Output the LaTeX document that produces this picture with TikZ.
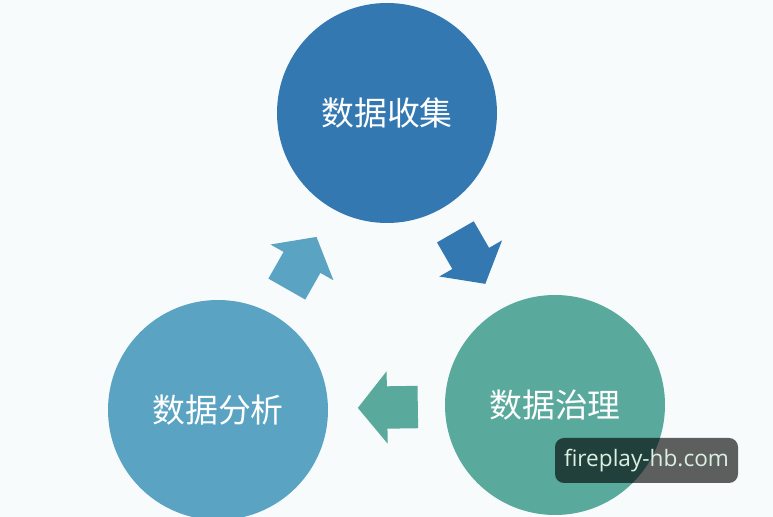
\documentclass[tikz,border=0pt]{standalone}
\usepackage{fontspec}
\newfontfamily\cjk{Noto Sans CJK SC}
\newfontfamily\markfont{Open Sans}
\usepackage{tikz}
\usetikzlibrary{shapes.arrows, calc}
\definecolor{collectblue}{RGB}{52,120,178}
\definecolor{analyzeblue}{RGB}{90,163,195}
\definecolor{governteal}{RGB}{90,169,157}
\definecolor{paper}{RGB}{247,251,252}
\definecolor{marktext}{RGB}{218,240,226}

\begin{document}
\begin{tikzpicture}[
  x=1bp, y=1bp,
  stage/.style={circle, minimum size=220bp, inner sep=0pt, text=white, font=\cjk\fontsize{33}{33}\selectfont},
  flowarrow/.style={single arrow, minimum height=60bp, inner xsep=0pt, inner ysep=21bp, single arrow head extend=15bp, single arrow tip angle=102, sloped, allow upside down, pos=0.415},
  markbox/.style={rounded corners=9bp, fill=black, fill opacity=0.62, text opacity=1, text=marktext, minimum width=183bp, minimum height=45bp, inner sep=0pt, font=\markfont\fontsize{22.7}{22.7}\selectfont},
]

  % Background
  \fill [paper] (0,0) rectangle (773,517);
  \useasboundingbox (0,0) rectangle (773,517);

  % Stage circles
  \node (collect) [stage, fill=collectblue] at (387,404) {数据收集};
  \node (analyze) [stage, fill=analyzeblue] at (218,107) {数据分析};
  \node (govern) [stage, fill=governteal] at (555,112) {数据治理};

  % Block arrows between the stages
  \path (collect) -- node (arrowcg) [flowarrow, fill=collectblue] {} (govern);
  \path (govern) -- node (arrowga) [flowarrow, fill=governteal] {} (analyze);
  \path (analyze) -- node (arrowac) [flowarrow, fill=analyzeblue] {} (collect);

  % Watermark
  \node (mark) [markbox] at (646.5,56.5) {fireplay-hb.com};

\end{tikzpicture}
\end{document}
